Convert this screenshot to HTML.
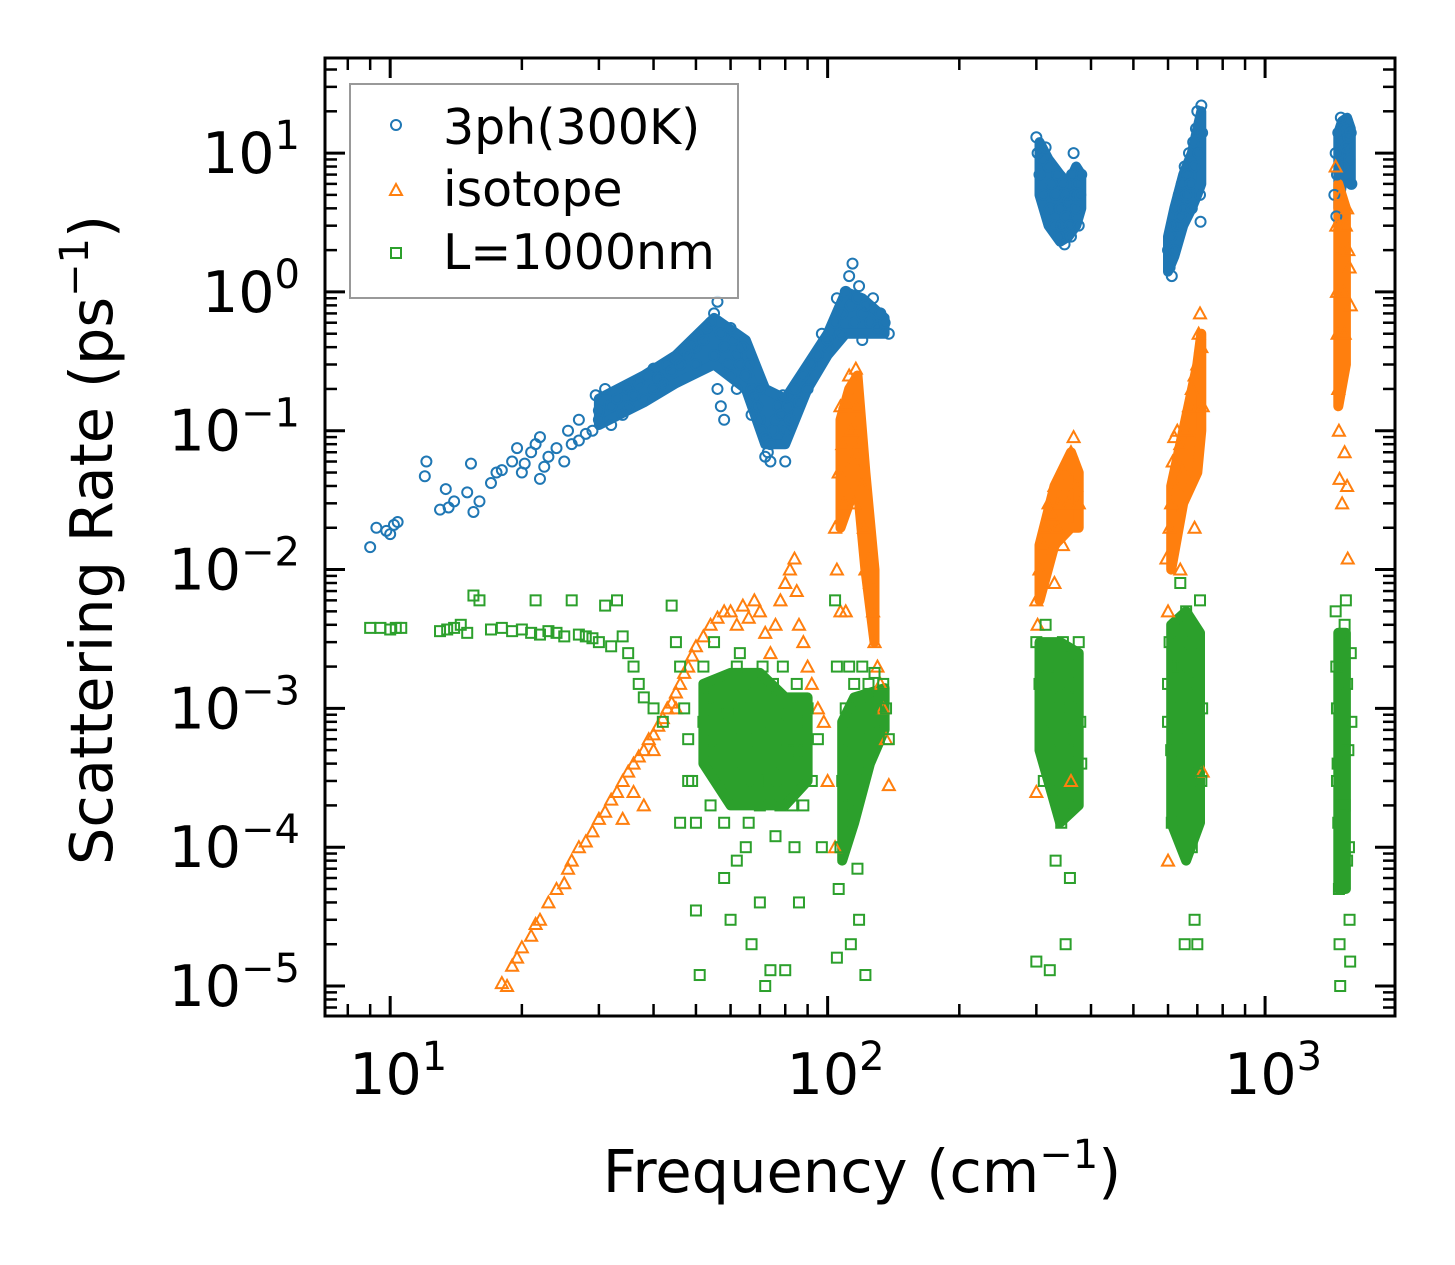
<!DOCTYPE html>
<html><head><meta charset="utf-8"><style>
html,body{margin:0;padding:0;background:#fff;}
svg{display:block;font-family:"DejaVu Sans","Liberation Sans",sans-serif;}
</style></head><body>
<svg id="chart" width="1455" height="1265" viewBox="0 0 1455 1265" xmlns="http://www.w3.org/2000/svg">
<rect width="1455" height="1265" fill="#fff"/>
<g id="bands"></g>
<g id="marks"></g>
<g id="axes"></g>
<g>
<rect x="350" y="84" width="388" height="214" fill="#fff" fill-opacity="0.8" stroke="#999" stroke-width="2"/>
<circle cx="396" cy="125" r="5" fill="none" stroke="#1f77b4" stroke-width="2"/>
<text x="443" y="144" font-size="49">3ph(300K)</text>
<path d="M396,184 L402,195 L390,195 Z" fill="none" stroke="#ff7f0e" stroke-width="2"/>
<text x="443" y="206" font-size="49">isotope</text>
<rect x="391" y="248" width="10" height="10" fill="none" stroke="#2ca02c" stroke-width="2"/>
<text x="443" y="269" font-size="49">L=1000nm</text>
</g>
<text x="862" y="1192" font-size="59" text-anchor="middle">Frequency (cm<tspan dy="-24" font-size="40">−1</tspan><tspan dy="24">)</tspan></text>
<text transform="translate(112,540) rotate(-90)" font-size="59" text-anchor="middle">Scattering Rate (ps<tspan dy="-24" font-size="40">−1</tspan><tspan dy="24">)</tspan></text>
</svg>
<script>
// axis ranges (log10)
const xLogMin = 0.851, xLogMax = 3.297;
const yLogMin = -5.216, yLogMax = 1.685;
const xTickExps = [1, 2, 3];
const yTickExps = [1, 0, -1, -2, -3, -4, -5];
const xTickLabels = ["1", "2", "3"];
const yTickLabels = ["1", "0", "−1", "−2", "−3", "−4", "−5"];

// 3ph(300K) points [freq, rate]
const blueFreq = [9,9.3,9.8,10,10.2,10.4,12,12.1,13,13.4,13.6,14,15,15.3,15.5,16,17,17.5,18,19,19.5,20,20.3,21,21.5,22,22,22.5,23,24,25,25.5,26,27,27,28,29,29.5,30,30,31,32,32,33,34,35,35,36,37,38,39,40,40,41,42,43,44,45,46,47,48,49,50,50,51,52,53,54,55,56,55,56,57,57,58,58,59,60,60,61,62,62,63,64,65,66,67,67,68,69,70,70,71,72,72,73,74,74,75,76,77,78,79,80,80,81,82,84,86,88,90,92,95,97,100,100,104,105,107,108,110,112,114,113,115,117,118,120,120,122,125,127,130,132,135,138,
300,302,305,310,312,315,320,322,325,330,332,335,338,340,342,345,348,350,352,355,358,360,362,365,368,370,372,375,378,380,
600,605,610,612,615,620,625,630,635,640,645,650,655,660,665,670,675,680,685,690,695,700,705,710,712,715,718,
1440,1450,1455,1460,1470,1480,1490,1500,1510,1520,1530,1540,1550,1560,1570,1575];
const blueRate = [0.0145,0.02,0.019,0.018,0.021,0.022,0.047,0.06,0.027,0.038,0.028,0.031,0.036,0.058,0.026,0.031,0.042,0.05,0.052,0.06,0.075,0.05,0.058,0.07,0.08,0.09,0.045,0.055,0.065,0.075,0.06,0.1,0.08,0.12,0.085,0.095,0.1,0.18,0.14,0.12,0.2,0.15,0.11,0.17,0.13,0.2,0.15,0.18,0.22,0.17,0.25,0.2,0.28,0.24,0.22,0.3,0.27,0.33,0.3,0.38,0.35,0.42,0.4,0.3,0.5,0.45,0.55,0.6,0.7,0.85,0.35,0.2,0.15,0.5,0.4,0.12,0.3,0.55,0.25,0.45,0.35,0.2,0.3,0.4,0.25,0.3,0.2,0.13,0.18,0.15,0.12,0.2,0.1,0.09,0.065,0.07,0.08,0.06,0.1,0.12,0.15,0.13,0.18,0.1,0.06,0.15,0.12,0.2,0.16,0.25,0.2,0.3,0.35,0.5,0.4,0.45,0.6,0.9,0.5,0.7,1.0,1.3,1.6,0.8,0.6,0.9,1.1,0.7,0.45,0.8,0.6,0.9,0.55,0.7,0.6,0.5,
13,10,7,9,5,11,8,4,6,3,5,7,2.5,4,3,6,2.2,3.5,5,4.5,3,2.5,7,10,5,4,6,3,5,7,
2,1.5,2.5,1.3,3,2,4,3,5,3.5,6,4,8,5,7,10,6,4,12,8,15,20,10,5,3.2,22,14,
5,10,3.5,7,14,10,18,12,8,15,11,17,13,9,14,6];

// isotope points
const orangeFreq = [18,18.5,19,19.5,20,21,21.5,22,23,24,25,25.5,26,27,28,29,30,31,32,33,34,35,36,37,38,39,40,41,42,43,44,45,46,47,48,49,50,52,54,56,58,60,62,64,66,68,70,72,74,76,78,80,82,84,85,86,88,90,92,95,98,38,34,36,40,45,
104,105,106,107,108,109,110,112,113,114,115,116,117,118,120,121,122,124,125,127,128,130,132,134,136,138,110,107,104,100,
300,302,305,310,315,320,325,330,335,340,345,350,355,360,365,370,375,300,360,330,
595,600,605,610,615,620,625,630,640,650,660,670,680,690,700,705,710,715,720,690,640,600,720,
1450,1455,1460,1465,1470,1475,1480,1490,1500,1510,1520,1530,1540,1550,1560,1570,1480,1500,1540,1545,1520];
const orangeRate = [1.05e-5,1e-5,1.4e-5,1.6e-5,1.9e-5,2.3e-5,2.8e-5,3e-5,4e-5,5e-5,5.5e-5,7e-5,8e-5,1e-4,1.1e-4,1.3e-4,1.6e-4,1.8e-4,2.2e-4,2.5e-4,3e-4,3.5e-4,4e-4,4.5e-4,5e-4,6e-4,6.5e-4,7.5e-4,8.5e-4,1e-3,1.1e-3,1.3e-3,1.5e-3,1.8e-3,2e-3,2.4e-3,2.8e-3,3.3e-3,4e-3,4.5e-3,5e-3,5e-3,4e-3,5.5e-3,4.5e-3,6e-3,5e-3,3.5e-3,2.5e-3,4e-3,6e-3,8e-3,1e-2,1.2e-2,7e-3,4e-3,3e-3,2e-3,1.5e-3,1e-3,8e-4,2e-4,1.6e-4,2.5e-4,5e-4,1e-3,
2e-2,1e-2,5e-2,1.5e-1,8e-2,3e-2,1.6e-1,2.5e-1,1e-1,6e-2,3e-2,2.8e-1,1.5e-1,8e-2,4e-2,2e-2,1e-2,1.2e-2,8e-3,5e-3,3e-3,2e-3,1.5e-3,1e-3,6e-4,2.8e-4,5e-3,5e-3,1e-4,3e-4,
6e-3,4e-3,1e-2,1.5e-2,2e-2,3e-2,2.5e-2,4e-2,2e-2,3e-2,1.5e-2,5e-2,3e-2,7e-2,9e-2,4e-2,3e-2,2.5e-4,3e-4,8e-3,
1.2e-2,5e-3,2e-2,3e-2,6e-2,9e-2,4e-2,1e-1,8e-2,5e-2,1e-1,1.5e-1,2e-1,2.5e-1,3e-1,5e-1,7e-1,4e-1,1.5e-1,2e-2,1e-2,8e-5,3.5e-4,
8,3,1,0.5,0.2,0.1,3,5,2,1,0.5,3,4,2,1.5,0.8,0.045,0.03,0.04,0.012,0.07];

// L=1000nm points
const greenFreq = [9,9.5,10,10.3,10.6,13,13.5,14,14.5,15,15.5,16,17,18,19,20,21,21.5,22,23,24,25,26,27,28,29,30,31,32,33,34,35,36,37,38,40,42,44,45,46,47,48,49,50,50,51,52,54,55,56,57,58,60,60,62,63,64,65,66,67,68,70,70,72,73,74,75,76,78,80,82,84,86,88,90,92,95,97,
52,53,55,57,59,61,63,65,67,69,71,73,75,77,79,81,83,85,87,89,54,58,62,66,70,76,80,84,46,48,
105,106,107,108,109,110,111,112,113,114,115,116,117,118,120,121,122,124,125,126,128,130,132,134,136,138,112,118,104,105,
300,300,305,310,312,315,318,320,322,325,330,332,335,338,340,342,345,348,350,352,355,358,360,362,365,368,370,375,378,380,
600,600,605,610,612,615,620,625,630,635,640,645,650,655,660,665,670,675,680,685,690,695,700,705,710,715,718,700,690,
1450,1455,1460,1465,1470,1475,1480,1485,1490,1500,1510,1520,1530,1540,1550,1555,1560,1565,1570,1575,1460,1500,1540,1480,1520];
const greenRate = [3.8e-3,3.8e-3,3.7e-3,3.8e-3,3.8e-3,3.6e-3,3.7e-3,3.8e-3,4e-3,3.5e-3,6.5e-3,6e-3,3.7e-3,3.8e-3,3.6e-3,3.7e-3,3.5e-3,6e-3,3.4e-3,3.6e-3,3.5e-3,3.3e-3,6e-3,3.4e-3,3.3e-3,3.2e-3,3e-3,5.5e-3,2.8e-3,6e-3,3.3e-3,2.5e-3,2e-3,1.5e-3,1.2e-3,1e-3,8e-4,5.5e-3,3e-3,2e-3,1e-3,6e-4,3e-4,1.5e-4,3.5e-5,1.2e-5,8e-4,5e-4,3e-3,1e-3,3e-4,1.5e-4,6e-4,3e-5,2e-3,1e-3,3e-4,1e-4,5e-4,2e-5,1.5e-3,8e-4,4e-5,1e-5,3e-4,1.3e-5,1.5e-3,6e-4,2e-4,1.3e-5,1e-3,5e-4,4e-5,2e-4,1e-3,3e-4,6e-4,1e-4,
2e-3,1.2e-3,7e-4,1.6e-3,9e-4,4e-4,2.5e-3,6e-4,1.2e-3,3e-4,2e-3,1.2e-3,4e-4,9e-4,2e-3,5e-4,2e-4,1.5e-3,8e-4,5e-4,2e-4,6e-5,8e-5,1.5e-4,2e-4,1.2e-4,3e-4,1e-4,1.5e-4,3e-4,
1.6e-5,5e-5,1e-4,3e-4,6e-4,1e-3,2e-4,5e-4,2e-5,8e-4,1.5e-3,3e-4,7e-5,1e-3,2e-3,4e-4,1.2e-5,1.5e-3,6e-4,1e-3,1.8e-3,1.2e-3,8e-4,1.5e-3,1e-3,6e-4,2e-3,3e-5,6e-3,2e-3,
3e-3,1.5e-5,1.5e-3,8e-4,3e-4,4e-3,2e-3,6e-4,1.3e-5,1.2e-3,2.5e-4,8e-5,2e-3,5e-4,1e-3,1.5e-4,3e-3,7e-4,2e-5,4e-4,1.5e-3,6e-5,1e-3,2e-4,2.5e-3,5e-4,1.2e-3,3e-3,8e-4,4e-4,
1.5e-3,8e-4,3e-3,5e-4,1.5e-4,2e-3,1e-3,4e-3,6e-4,2e-3,8e-3,1e-3,3e-4,2e-5,5e-3,1.5e-3,6e-4,2.5e-3,1e-4,3e-3,8e-4,2e-3,4e-4,1.5e-3,6e-3,3e-4,1e-3,2e-5,3e-5,
5e-3,2e-3,1e-3,4e-4,1.5e-4,5e-5,2e-5,1e-5,3e-3,1e-3,5e-4,2e-4,6e-3,1.5e-3,5e-4,1e-4,3e-5,1.5e-5,2.5e-3,8e-4,3e-4,2e-4,8e-5,2e-3,4e-3];

// dense-cluster envelopes: [freq, low, high]
const blueBands = [
 [[30,0.11,0.17],[38,0.16,0.25],[45,0.22,0.35],[55,0.3,0.65],[65,0.2,0.45],[72,0.08,0.2],[80,0.08,0.17],[90,0.2,0.3],[100,0.35,0.5],[110,0.5,1.0],[120,0.5,0.9],[135,0.5,0.65]],
 [[305,5,12],[320,3,9],[340,2.3,7],[355,2.5,6],[370,3,8],[380,4,7]],
 [[600,1.4,2.5],[620,1.8,4],[650,3,7],[680,4,10],[700,5,15],[715,6,20]],
 [[1470,4,14],[1500,6,17],[1540,7,18],[1570,6,15]]];
const orangeBands = [
 [[107,0.02,0.12],[112,0.03,0.2],[117,0.04,0.25],[122,0.01,0.05],[128,0.003,0.01]],
 [[305,0.006,0.015],[330,0.015,0.04],[360,0.02,0.07],[375,0.02,0.05]],
 [[610,0.01,0.04],[650,0.03,0.1],[700,0.05,0.3],[715,0.1,0.5]],
 [[1470,0.15,6],[1530,0.3,4]]];
const greenBands = [
 [[52,4e-4,1.5e-3],[60,2e-4,1.8e-3],[70,2e-4,1.8e-3],[80,2e-4,1.2e-3],[90,3e-4,1.2e-3]],
 [[108,8e-5,8e-4],[115,1.5e-4,1.2e-3],[125,4e-4,1.3e-3],[135,7e-4,1.4e-3]],
 [[305,5e-4,3e-3],[340,1.5e-4,3e-3],[375,2e-4,2.5e-3]],
 [[610,1.5e-4,4e-3],[660,8e-5,5e-3],[710,1.5e-4,3.5e-3]],
 [[1470,5e-5,3.5e-3],[1530,5e-5,3.5e-3]]];

const L = 325, R = 1395, T = 58, B = 1016;
function xs(v){ return L + (Math.log10(v) - xLogMin) / (xLogMax - xLogMin) * (R - L); }
function ys(v){ return B - (Math.log10(v) - yLogMin) / (yLogMax - yLogMin) * (B - T); }
const NS = "http://www.w3.org/2000/svg";
function mk(tag, attrs, parent){ const e = document.createElementNS(NS, tag); for (const k in attrs) e.setAttribute(k, attrs[k]); parent.appendChild(e); return e; }

const bands = document.getElementById('bands');
function drawBands(list, color, nm){
  list.forEach(b => {
    let d = b.map((p,i) => (i?'L':'M') + xs(p[0]).toFixed(1) + ',' + ys(p[2]).toFixed(1)).join(' ');
    d += ' ' + b.slice().reverse().map(p => 'L' + xs(p[0]).toFixed(1) + ',' + ys(p[1]).toFixed(1)).join(' ') + ' Z';
    const e = mk('path', {d: d, fill: color, stroke: color, 'stroke-width': 10, 'stroke-linejoin': 'round'}, bands);
    
    
  });
}
drawBands(blueBands, '#1f77b4', 'cluster-3ph');
drawBands(orangeBands, '#ff7f0e', 'cluster-isotope');
drawBands(greenBands, '#2ca02c', 'cluster-l1000');

const marks = document.getElementById('marks');
blueFreq.forEach((f,i) => {
  const e = mk('circle', {cx: xs(f), cy: ys(blueRate[i]), r: 5, fill: 'none', stroke: '#1f77b4', 'stroke-width': 2}, marks);
  
  
});
orangeFreq.forEach((f,i) => {
  const x = xs(f), y = ys(orangeRate[i]);
  const e = mk('path', {d: `M${x},${y-6} L${x+6},${y+5} L${x-6},${y+5} Z`, fill: 'none', stroke: '#ff7f0e', 'stroke-width': 2}, marks);
  
  
});
greenFreq.forEach((f,i) => {
  const x = xs(f), y = ys(greenRate[i]);
  const e = mk('rect', {x: x-5, y: y-5, width: 10, height: 10, fill: 'none', stroke: '#2ca02c', 'stroke-width': 2}, marks);
  
  
});

const axes = document.getElementById('axes');
const fr = mk('rect', {x: L, y: T, width: R-L, height: B-T, fill: 'none', stroke: '#000', 'stroke-width': 3}, axes);


for (let e = 0; e <= 3; e++) for (let m = 1; m <= 9; m++) {
  const v = m * Math.pow(10, e), lv = Math.log10(v);
  if (lv < xLogMin || lv > xLogMax) continue;
  const x = xs(v), len = m === 1 ? 20 : 12, w = m === 1 ? 3 : 2.5;
  const t1 = mk('line', {x1: x, x2: x, y1: B, y2: B-len, stroke: '#000', 'stroke-width': w}, axes);
  
  
  const t2 = mk('line', {x1: x, x2: x, y1: T, y2: T+len, stroke: '#000', 'stroke-width': w}, axes);
  
  
}
for (let e = -6; e <= 1; e++) for (let m = 1; m <= 9; m++) {
  const v = m * Math.pow(10, e), lv = Math.log10(v);
  if (lv < yLogMin || lv > yLogMax) continue;
  const y = ys(v), len = m === 1 ? 20 : 12, w = m === 1 ? 3 : 2.5;
  const t1 = mk('line', {x1: L, x2: L+len, y1: y, y2: y, stroke: '#000', 'stroke-width': w}, axes);
  
  
  const t2 = mk('line', {x1: R, x2: R-len, y1: y, y2: y, stroke: '#000', 'stroke-width': w}, axes);
  
  
}
xTickExps.forEach((ex,i) => {
  const t = mk('text', {x: xs(Math.pow(10, ex)) + 8, y: 1094, 'font-size': 57, 'text-anchor': 'middle'}, axes);
  
  
  t.innerHTML = '10<tspan dy="-24" font-size="40">' + xTickLabels[i] + '</tspan>';
});
yTickExps.forEach((ex,i) => {
  const t = mk('text', {x: 300, y: ys(Math.pow(10, ex)) + 20, 'font-size': 57, 'text-anchor': 'end'}, axes);
  
  
  t.innerHTML = '10<tspan dy="-24" font-size="40">' + yTickLabels[i] + '</tspan>';
});
</script>
</body></html>
